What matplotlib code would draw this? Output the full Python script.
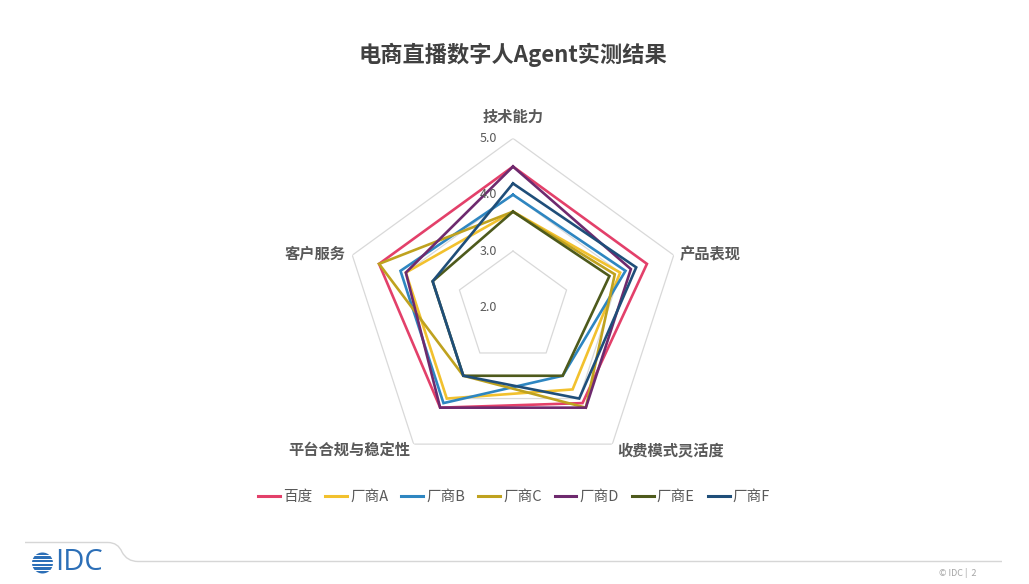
import numpy as np
import matplotlib
matplotlib.use("Agg")
import matplotlib.pyplot as plt
from matplotlib.patches import Circle, Rectangle
from matplotlib.path import Path
from matplotlib.patches import PathPatch

plt.rcParams['font.family'] = ['Noto Sans CJK SC', 'DejaVu Sans']

# ---------------- data ----------------
title = "电商直播数字人Agent实测结果"
categories = ["技术能力", "产品表现", "收费模式灵活度", "平台合规与稳定性", "客户服务"]
series_names = ["百度", "厂商A", "厂商B", "厂商C", "厂商D", "厂商E", "厂商F"]
baidu = [4.5, 4.5, 4.1, 4.2, 4.5]
vendor_a = [3.7, 4.0, 3.8, 4.0, 4.0]
vendor_b = [4.0, 4.1, 3.5, 4.1, 4.1]
vendor_c = [3.7, 3.9, 4.2, 3.5, 4.5]
vendor_d = [4.5, 4.2, 4.2, 4.2, 4.0]
vendor_e = [3.7, 3.8, 3.5, 3.5, 3.5]
vendor_f = [4.2, 4.3, 4.0, 3.5, 3.5]
r_ticks = [2.0, 3.0, 4.0, 5.0]
r_min, r_max = 2.0, 5.0

series_values = [baidu, vendor_a, vendor_b, vendor_c, vendor_d, vendor_e, vendor_f]
colors = ["#E3406A", "#F2C12E", "#2E86C1", "#BFA21F", "#6E2A6E", "#4E5A1C", "#1F4E79"]

W, H = 1029, 584
fig = plt.figure(figsize=(W / 100, H / 100), dpi=100)
fig.patch.set_facecolor("white")

# background axes in pixel coordinates for decorations
bg = fig.add_axes([0, 0, 1, 1])
bg.set_xlim(0, W)
bg.set_ylim(H, 0)
bg.axis("off")

# ---------------- radar ----------------
cx, cy, R = 513, 307.4, 169
ax = fig.add_axes([(cx - R) / W, (H - cy - R) / H, 2 * R / W, 2 * R / H], polar=True)
ax.set_theta_offset(np.pi / 2)
ax.set_theta_direction(-1)
ax.set_ylim(r_min, r_max)
ax.grid(False)
ax.spines['polar'].set_visible(False)
ax.set_xticks([])
ax.set_yticks([])
ax.patch.set_alpha(0)

n = len(categories)
theta = np.arange(n) * 2 * np.pi / n
theta_c = np.concatenate([theta, theta[:1]])

for rt in r_ticks[1:]:
    ax.plot(theta_c, [rt] * (n + 1), color="#D9D9D9", lw=0.9, zorder=1)

for name, vals, col in zip(series_names, series_values, colors):
    v = list(vals) + [vals[0]]
    ax.plot(theta_c, v, color=col, lw=1.9, label=name, zorder=3, solid_joinstyle="miter")

for rt in r_ticks:
    ax.annotate(f"{rt:.1f}", xy=(0, rt), xytext=(-11.5, 0), textcoords="offset points",
                ha="right", va="center", fontsize=9, color="#595959", zorder=5)

# category labels
label_pos = [
    (513, 117, "center", "center"),
    (680, 254, "left", "center"),
    (617, 450, "left", "center"),
    (410, 450, "right", "center"),
    (346, 254, "right", "center"),
]
for cat, (x, y, ha, va) in zip(categories, label_pos):
    fig.text(x / W, 1 - y / H, cat, ha=ha, va=va, fontsize=11, fontweight="bold", color="#595959")

# title
fig.text(513 / W, 1 - 55 / H, title, ha="center", va="center", fontsize=16,
         fontweight="bold", color="#404040")

# legend
handles, labels = ax.get_legend_handles_labels()
leg = fig.legend(handles, labels, loc="center", bbox_to_anchor=(514 / W, 1 - 497 / H),
                 ncol=7, frameon=False, fontsize=10.5, handlelength=1.5,
                 handletextpad=0.2, columnspacing=0.9, labelcolor="#595959")
for lh in leg.get_lines():
    lh.set_linewidth(2.2)

# ---------------- footer ----------------
verts = [(25, 542.5), (108, 542.5), (118, 542.5), (122, 552), (127, 561.5), (138, 561.5), (1002, 561.5)]
codes = [Path.MOVETO, Path.LINETO, Path.CURVE3, Path.CURVE3, Path.CURVE3, Path.CURVE3, Path.LINETO]
bg.add_patch(PathPatch(Path(verts, codes), fill=False, edgecolor="#D6D6D6", lw=1.0))

# IDC globe (striped circle)
gx, gy, gr = 42.5, 563, 10.5
globe = Circle((gx, gy), gr, facecolor="#2C6FB7", edgecolor="none")
bg.add_patch(globe)
for k, yy in enumerate(np.linspace(gy - gr + 3, gy + gr - 3, 5)):
    bg.add_patch(Rectangle((gx - gr - 1, yy - 0.7), 2 * gr + 2, 1.4, facecolor="white",
                           edgecolor="none"))
bg.text(55, 563, "IDC", ha="left", va="center", fontsize=21, color="#2C6FB7",
        family=["Open Sans", "DejaVu Sans"])
bg.text(958, 573, "© IDC |  2", ha="center", va="center", fontsize=6.5, color="#A6A6A6")

fig.savefig("out.png", dpi=100, facecolor="white")
